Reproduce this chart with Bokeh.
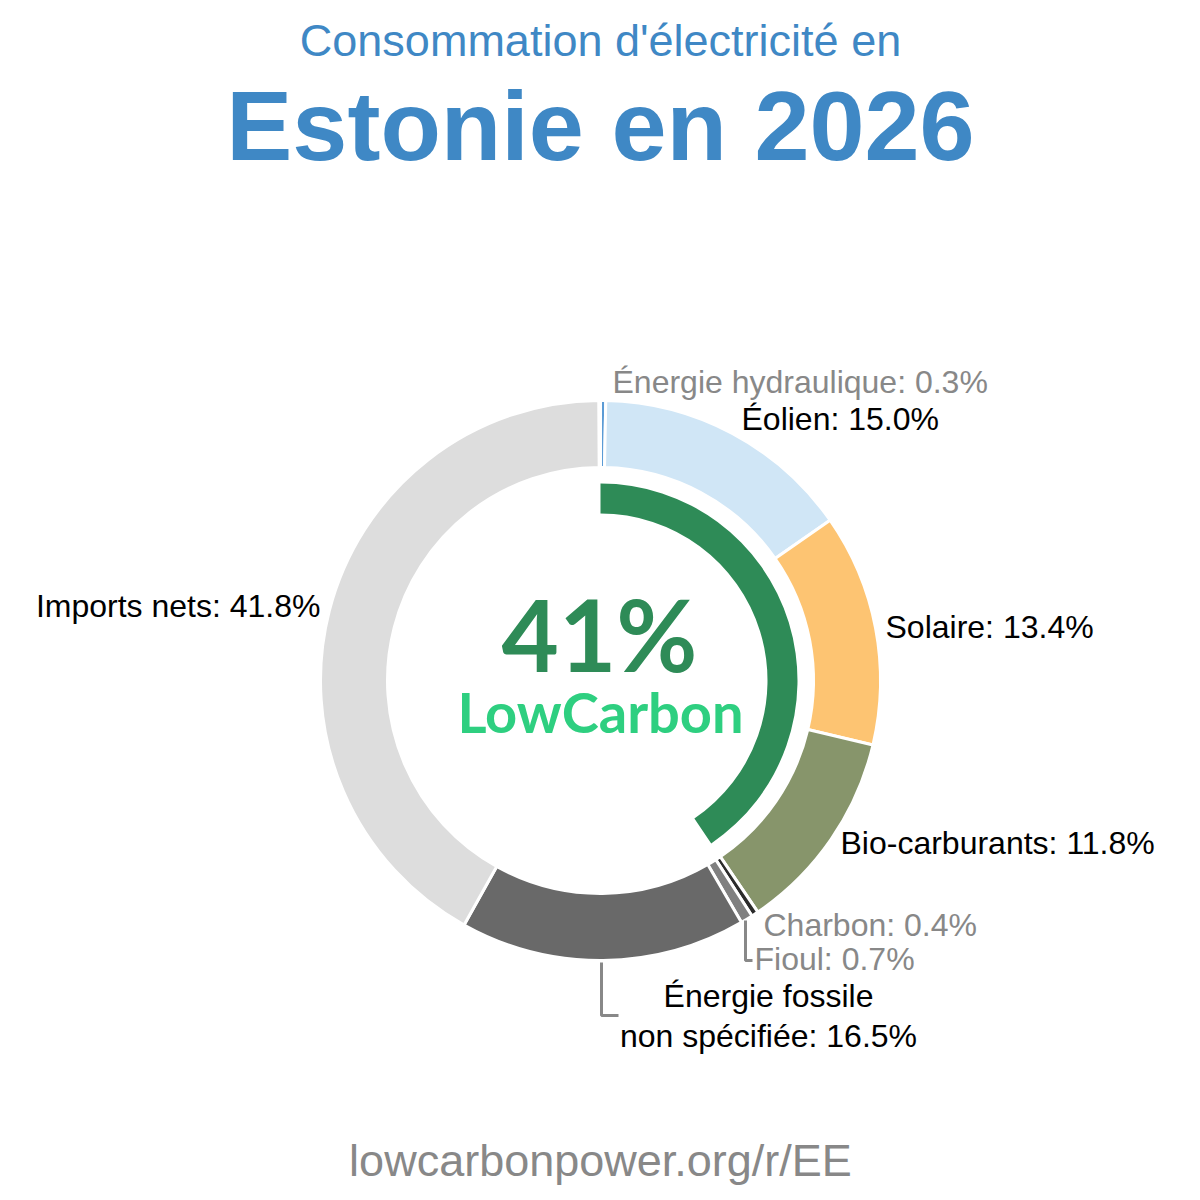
import numpy as np
from bokeh.plotting import figure
from bokeh.models import ColumnDataSource, Range1d
from bokeh.core.properties import value
from bokeh.embed import file_html
from bokeh.resources import INLINE

# ---- data ----
labels = ["Énergie hydraulique", "Éolien", "Solaire", "Bio-carburants",
          "Charbon", "Fioul", "Énergie fossile non spécifiée", "Imports nets"]
values = [0.3, 15.0, 13.4, 11.8, 0.4, 0.7, 16.5, 41.8]
colors = ["#5b9bd5", "#d0e6f6", "#fdc472", "#87956b",
          "#2b2b2b", "#808080", "#696969", "#dddddd"]
low_carbon = [True, True, True, True, False, False, False, False]
low_carbon_label = "41%"

title_small = "Consommation d'électricité en"
title_big = "Estonie en 2026"
footer = "lowcarbonpower.org/r/EE"

W = H = 1200
CX, CY = 600, 1200 - 680
R_OUT, R_IN = 280, 213
G_OUT, G_IN = 197, 167

vals = np.array(values)
total = 100.0
cum = np.concatenate([[0], np.cumsum(vals)])
start = np.pi / 2 - cum[:-1] / total * 2 * np.pi
end = np.pi / 2 - cum[1:] / total * 2 * np.pi

p = figure(width=W, height=H, x_range=Range1d(0, W), y_range=Range1d(0, H),
           output_backend="svg", toolbar_location=None, min_border=0)
p.axis.visible = False
p.grid.visible = False
p.outline_line_color = None
p.background_fill_color = "white"
p.border_fill_color = "white"

src = ColumnDataSource(dict(x=[CX] * len(vals), y=[CY] * len(vals),
                            start=start, end=end, color=colors))
p.annular_wedge(x="x", y="y", inner_radius=R_IN, outer_radius=R_OUT,
                start_angle="start", end_angle="end", direction="clock",
                fill_color="color", line_color="white", line_width=3, source=src)

lc_share = float(np.sum(vals[np.array(low_carbon)]))
p.annular_wedge(x=[CX], y=[CY], inner_radius=G_IN, outer_radius=G_OUT,
                start_angle=[np.pi / 2], end_angle=[np.pi / 2 - lc_share / total * 2 * np.pi],
                direction="clock", fill_color="#2e8b57", line_color=None)

def T(x, y, txt, size, color="black", align="left", font="Liberation Sans", style="normal"):
    p.text(x=[x], y=[H - y], text=[txt], text_font=value(font), text_font_size=size,
           text_color=color, text_align=align, text_baseline="middle", text_font_style=style)

# titles
T(600, 40, title_small, "45px", "#3f88c5", "center")
T(600, 125, title_big, "99px", "#3f88c5", "center", style="bold")
T(600, 1160, footer, "45px", "#888888", "center")

# center
T(599, 633, low_carbon_label, "99px", "#2e8b57", "center", font="Lato", style="bold")
T(600, 711, "LowCarbon", "56px", "#2ecf80", "center", font="Lato", style="bold")

# slice labels
LS = "32px"
T(612, 381, f"{labels[0]}: {values[0]}%", LS, "#888888")
T(741, 418, f"{labels[1]}: {values[1]}%", LS)
T(885, 626, f"{labels[2]}: {values[2]}%", LS)
T(840, 842, f"{labels[3]}: {values[3]}%", LS)
T(763, 924, f"{labels[4]}: {values[4]}%", LS, "#888888")
T(754, 958, f"{labels[5]}: {values[5]}%", LS, "#888888")
T(768, 995, "Énergie fossile", LS, "black", "center")
T(768, 1035, f"non spécifiée: {values[6]}%", LS, "black", "center")
T(320, 605, f"{labels[7]}: {values[7]}%", LS, "black", "right")

# leader lines
p.line(x=[745, 745, 752], y=[H - 920, H - 960, H - 960], line_color="#888888", line_width=3)
p.line(x=[601, 601, 618], y=[H - 962, H - 1015, H - 1015], line_color="#888888", line_width=3)

open("out.html", "w").write(file_html(p, INLINE))
